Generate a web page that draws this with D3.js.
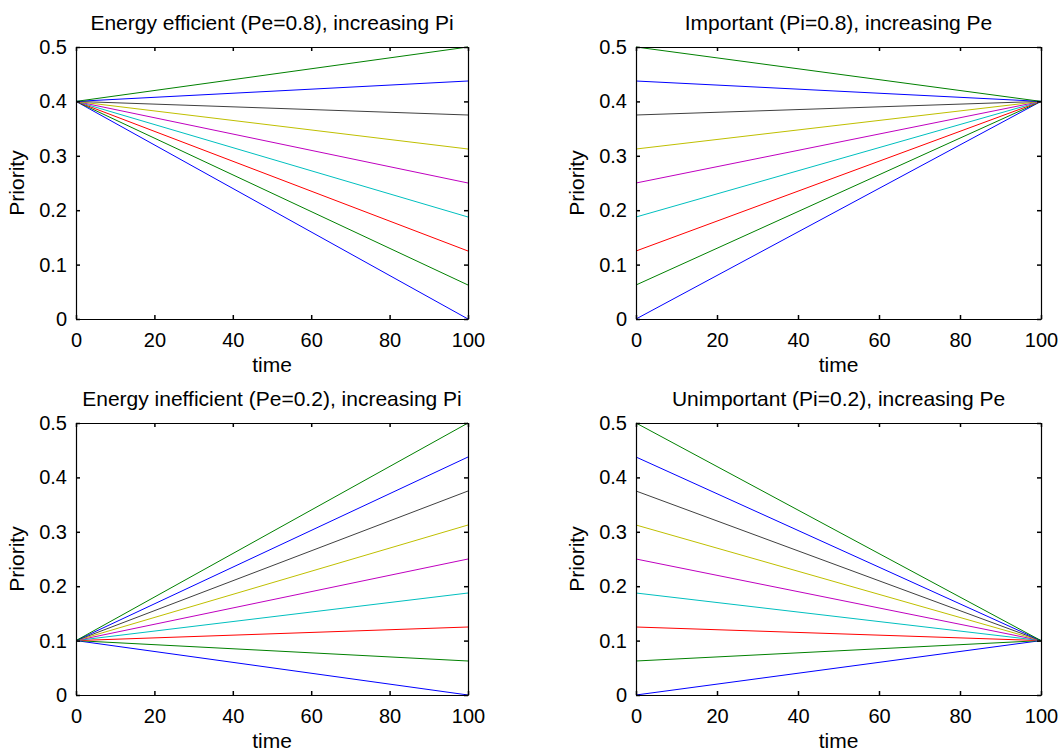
<!DOCTYPE html>
<html>
<head>
<meta charset="utf-8">
<script src="https://cdn.jsdelivr.net/npm/d3@7"></script>
<style>
  body { margin: 0; background: #fff; }
</style>
</head>
<body>
<div id="chart-area"></div>
<script>
// line colours (MATLAB default order, wraps after 7)
const lineColors = ["#0000ff", "#008000", "#ff0000", "#00bfbf", "#bf00bf", "#bfbf00", "#404040", "#0000ff", "#008000"];

// values at the varying end of each line
const levels = [0, 0.0625, 0.125, 0.1875, 0.25, 0.3125, 0.375, 0.4375, 0.5];

const panelTitles = [
  "Energy efficient (Pe=0.8), increasing Pi",
  "Important (Pi=0.8), increasing Pe",
  "Energy inefficient (Pe=0.2), increasing Pi",
  "Unimportant (Pi=0.2), increasing Pe"
];
// common value each panel converges to, and which end it is at
const pivotValues = [0.4, 0.4, 0.1, 0.1];
const pivotAtStart = [true, false, true, false];

const timeRange = [0, 100];
const xTicks = [0, 20, 40, 60, 80, 100];
const yTicks = [0, 0.1, 0.2, 0.3, 0.4, 0.5];

const svgWidth = 1062, svgHeight = 753;
const panelH = 272;
const panelPos = [
  {x: 76, y: 47},
  {x: 636, y: 47},
  {x: 76, y: 423},
  {x: 636, y: 423}
];
const panelWidths = [392, 405, 392, 405];
const font = "Liberation Sans, Arial, sans-serif";

const canvas = d3.select("#chart-area")
  .append("svg")
    .attr("width", svgWidth)
    .attr("height", svgHeight);

panelTitles.forEach((title, p) => {
  const w = panelWidths[p];
  const g = canvas.append("g")
    .attr("transform", `translate(${panelPos[p].x},${panelPos[p].y})`);

  const x = d3.scaleLinear().domain(timeRange).range([0, w]);
  const y = d3.scaleLinear().domain([0, 0.5]).range([panelH, 0]);

  const line = d3.line()
    .x(d => x(d.t))
    .y(d => y(d.v));

  levels.forEach((lv, i) => {
    const pts = pivotAtStart[p]
      ? [{t: timeRange[0], v: pivotValues[p]}, {t: timeRange[1], v: lv}]
      : [{t: timeRange[0], v: lv}, {t: timeRange[1], v: pivotValues[p]}];
    g.append("path")
      .datum(pts)
      .attr("fill", "none")
      .attr("stroke", lineColors[i])
      .attr("stroke-width", 1)
      .attr("d", line);
  });

  // axes: bottom/left with labels, top/right ticks only (inward)
  const bottom = g.append("g")
    .attr("transform", `translate(0,${panelH})`)
    .call(d3.axisBottom(x).tickValues(xTicks).tickSizeInner(-4).tickSizeOuter(0).tickPadding(14));
  const left = g.append("g")
    .call(d3.axisLeft(y).tickValues(yTicks).tickFormat(d => d === 0 ? "0" : d3.format(".1f")(d))
      .tickSizeInner(-4).tickSizeOuter(0).tickPadding(9));
  const top = g.append("g")
    .call(d3.axisTop(x).tickValues(xTicks).tickSizeInner(-4).tickSizeOuter(0).tickFormat(""));
  const right = g.append("g")
    .attr("transform", `translate(${w},0)`)
    .call(d3.axisRight(y).tickValues(yTicks).tickSizeInner(-4).tickSizeOuter(0).tickFormat(""));

  [bottom, left, top, right].forEach(a => {
    a.select(".domain").attr("stroke", "#000").attr("stroke-width", 1.2);
    a.selectAll("line").attr("stroke", "#000").attr("stroke-width", 1.5);
    a.selectAll("text")
      .attr("font-family", font)
      .attr("font-size", 20)
      .attr("fill", "#000");
  });

  g.append("text")
    .text(title)
    .attr("x", w / 2)
    .attr("y", -17)
    .attr("text-anchor", "middle")
    .attr("font-family", font)
    .attr("font-size", 21);

  g.append("text")
    .text("time")
    .attr("x", w / 2)
    .attr("y", panelH + 53)
    .attr("text-anchor", "middle")
    .attr("font-family", font)
    .attr("font-size", 21);

  g.append("text")
    .text("Priority")
    .attr("transform", `translate(-52,${panelH / 2}) rotate(-90)`)
    .attr("text-anchor", "middle")
    .attr("font-family", font)
    .attr("font-size", 21);
});
</script>
</body>
</html>
